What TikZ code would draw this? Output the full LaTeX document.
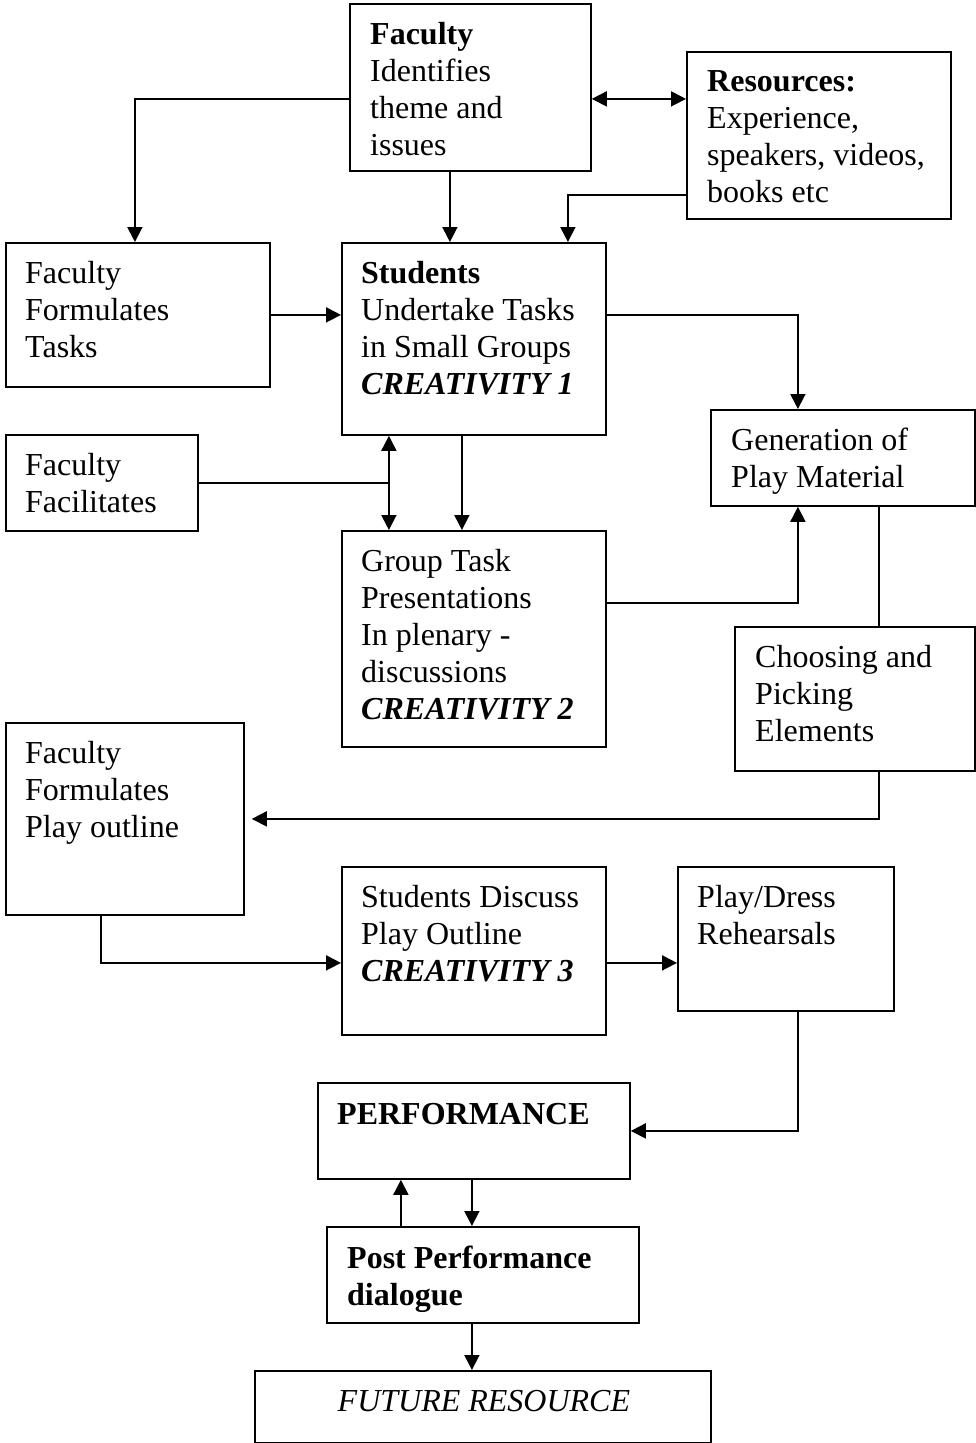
\documentclass[tikz,border=0pt]{standalone}
\usepackage{fontspec}
\setmainfont{Liberation Serif}
\usetikzlibrary{arrows.meta, positioning}
\tikzset{box/.style = {rectangle, draw=black, line width=1.8pt, anchor=north west, inner sep=0pt}}
\tikzset{txt/.style = {anchor=north west, xshift=21pt, yshift=-19pt, inner sep=0pt, align=left,
  font=\fontsize{32}{37}\selectfont, execute at begin node={\rule{0pt}{22pt}}}}
\tikzset{arrow/.style = {line width=1.8pt, ->, >={Triangle[length=15pt, width=15pt]}}}
\tikzset{link/.style = {line width=1.8pt}}

\begin{document}
\begin{tikzpicture}[x=1pt, y=-1pt]
\useasboundingbox (0,0) rectangle (976,1443);

% boxes
\node (fac) [box, minimum width=241pt, minimum height=167pt] at (349,3) {};
\node (res) [box, minimum width=264pt, minimum height=167pt] at (686,51) {};
\node (ftask) [box, minimum width=264pt, minimum height=144pt] at (5,242) {};
\node (stud) [box, minimum width=264pt, minimum height=192pt] at (341,242) {};
\node (ffac) [box, minimum width=192pt, minimum height=96pt] at (5,434) {};
\node (gen) [box, minimum width=264pt, minimum height=96pt] at (710,409) {};
\node (pres) [box, minimum width=264pt, minimum height=216pt] at (341,530) {};
\node (pick) [box, minimum width=240pt, minimum height=144pt] at (734,626) {};
\node (fplay) [box, minimum width=238pt, minimum height=192pt] at (5,722) {};
\node (disc) [box, minimum width=264pt, minimum height=168pt] at (341,866) {};
\node (reh) [box, minimum width=216pt, minimum height=144pt] at (677,866) {};
\node (perf) [box, minimum width=312pt, minimum height=96pt] at (317,1082) {};
\node (post) [box, minimum width=312pt, minimum height=96pt] at (326,1226) {};
\node (fut) [box, minimum width=456pt, minimum height=72pt] at (254,1370) {};

% texts
\node (fac-t) [txt] at (fac.north west) {\textbf{Faculty}\\Identifies\\theme and\\issues};
\node (res-t) [txt] at (res.north west) {\textbf{Resources:}\\Experience,\\speakers, videos,\\books etc};
\node (ftask-t) [txt, xshift=-1pt] at (ftask.north west) {Faculty\\Formulates\\Tasks};
\node (stud-t) [txt, xshift=-1pt] at (stud.north west) {\textbf{Students}\\Undertake Tasks\\in Small Groups\\\textbf{\textit{CREATIVITY 1}}};
\node (ffac-t) [txt, xshift=-1pt] at (ffac.north west) {Faculty\\Facilitates};
\node (gen-t) [txt] at (gen.north west) {Generation of\\Play Material};
\node (pres-t) [txt, xshift=-1pt] at (pres.north west) {Group Task\\Presentations\\In plenary -\\discussions\\\textbf{\textit{CREATIVITY 2}}};
\node (pick-t) [txt] at (pick.north west) {Choosing and\\Picking\\Elements};
\node (fplay-t) [txt, xshift=-1pt] at (fplay.north west) {Faculty\\Formulates\\Play outline};
\node (disc-t) [txt, xshift=-1pt] at (disc.north west) {Students Discuss\\Play Outline\\\textbf{\textit{CREATIVITY 3}}};
\node (reh-t) [txt, xshift=-1pt] at (reh.north west) {Play/Dress\\Rehearsals};
\node (perf-t) [txt, xshift=-1pt, yshift=-1pt] at (perf.north west) {\textbf{PERFORMANCE}};
\node (post-t) [txt, yshift=-1pt] at (post.north west) {\textbf{Post Performance}\\\textbf{dialogue}};
\node (fut-t) [txt, anchor=north, xshift=-20pt] at (fut.north) {\textit{FUTURE RESOURCE}};

% connectors
\coordinate (split) at ([xshift=-85pt]stud.south);
\draw [arrow] ([yshift=-11.5pt]fac.west) -| ([xshift=-3pt]ftask.north);
\draw [arrow, <->] ([yshift=-11.5pt]fac.east) -- ([yshift=36.5pt]res.west);
\draw [arrow] ([xshift=-20.5pt]fac.south) -- ([xshift=-24pt]stud.north);
\draw [arrow] ([yshift=-59.5pt]res.west) -| ([xshift=94pt]stud.north);
\draw [arrow] (ftask.east) -- (ftask.east -| stud.west);
\draw [arrow] ([yshift=24pt]stud.east) -| ([xshift=-45pt]gen.north);
\draw [arrow, <->] (split) -- ([xshift=-85pt]pres.north);
\draw [link] (ffac.east) -- (ffac.east -| split);
\draw [arrow] ([xshift=-12pt]stud.south) -- ([xshift=-12pt]pres.north);
\draw [arrow] ([yshift=36pt]pres.east) -| ([xshift=-45pt]gen.south);
\draw [link] ([xshift=36pt]gen.south) -- ([xshift=24pt]pick.north);
\draw [arrow, shorten >=7pt] ([xshift=24pt]pick.south) |- (fplay.east);
\draw [arrow] ([xshift=-24pt]fplay.south) |- ([yshift=-12pt]disc.west);
\draw [arrow] ([yshift=-12pt]disc.east) -- ([yshift=-24pt]reh.west);
\draw [arrow] ([xshift=12pt]reh.south) |- (perf.east);
\draw [arrow] ([xshift=-82pt]post.north) -- ([xshift=-73pt]perf.south);
\draw [arrow] ([xshift=-2pt]perf.south) -- ([xshift=-11pt]post.north);
\draw [arrow] ([xshift=-11pt]post.south) -- ([xshift=-11pt]fut.north);
\end{tikzpicture}
\end{document}
